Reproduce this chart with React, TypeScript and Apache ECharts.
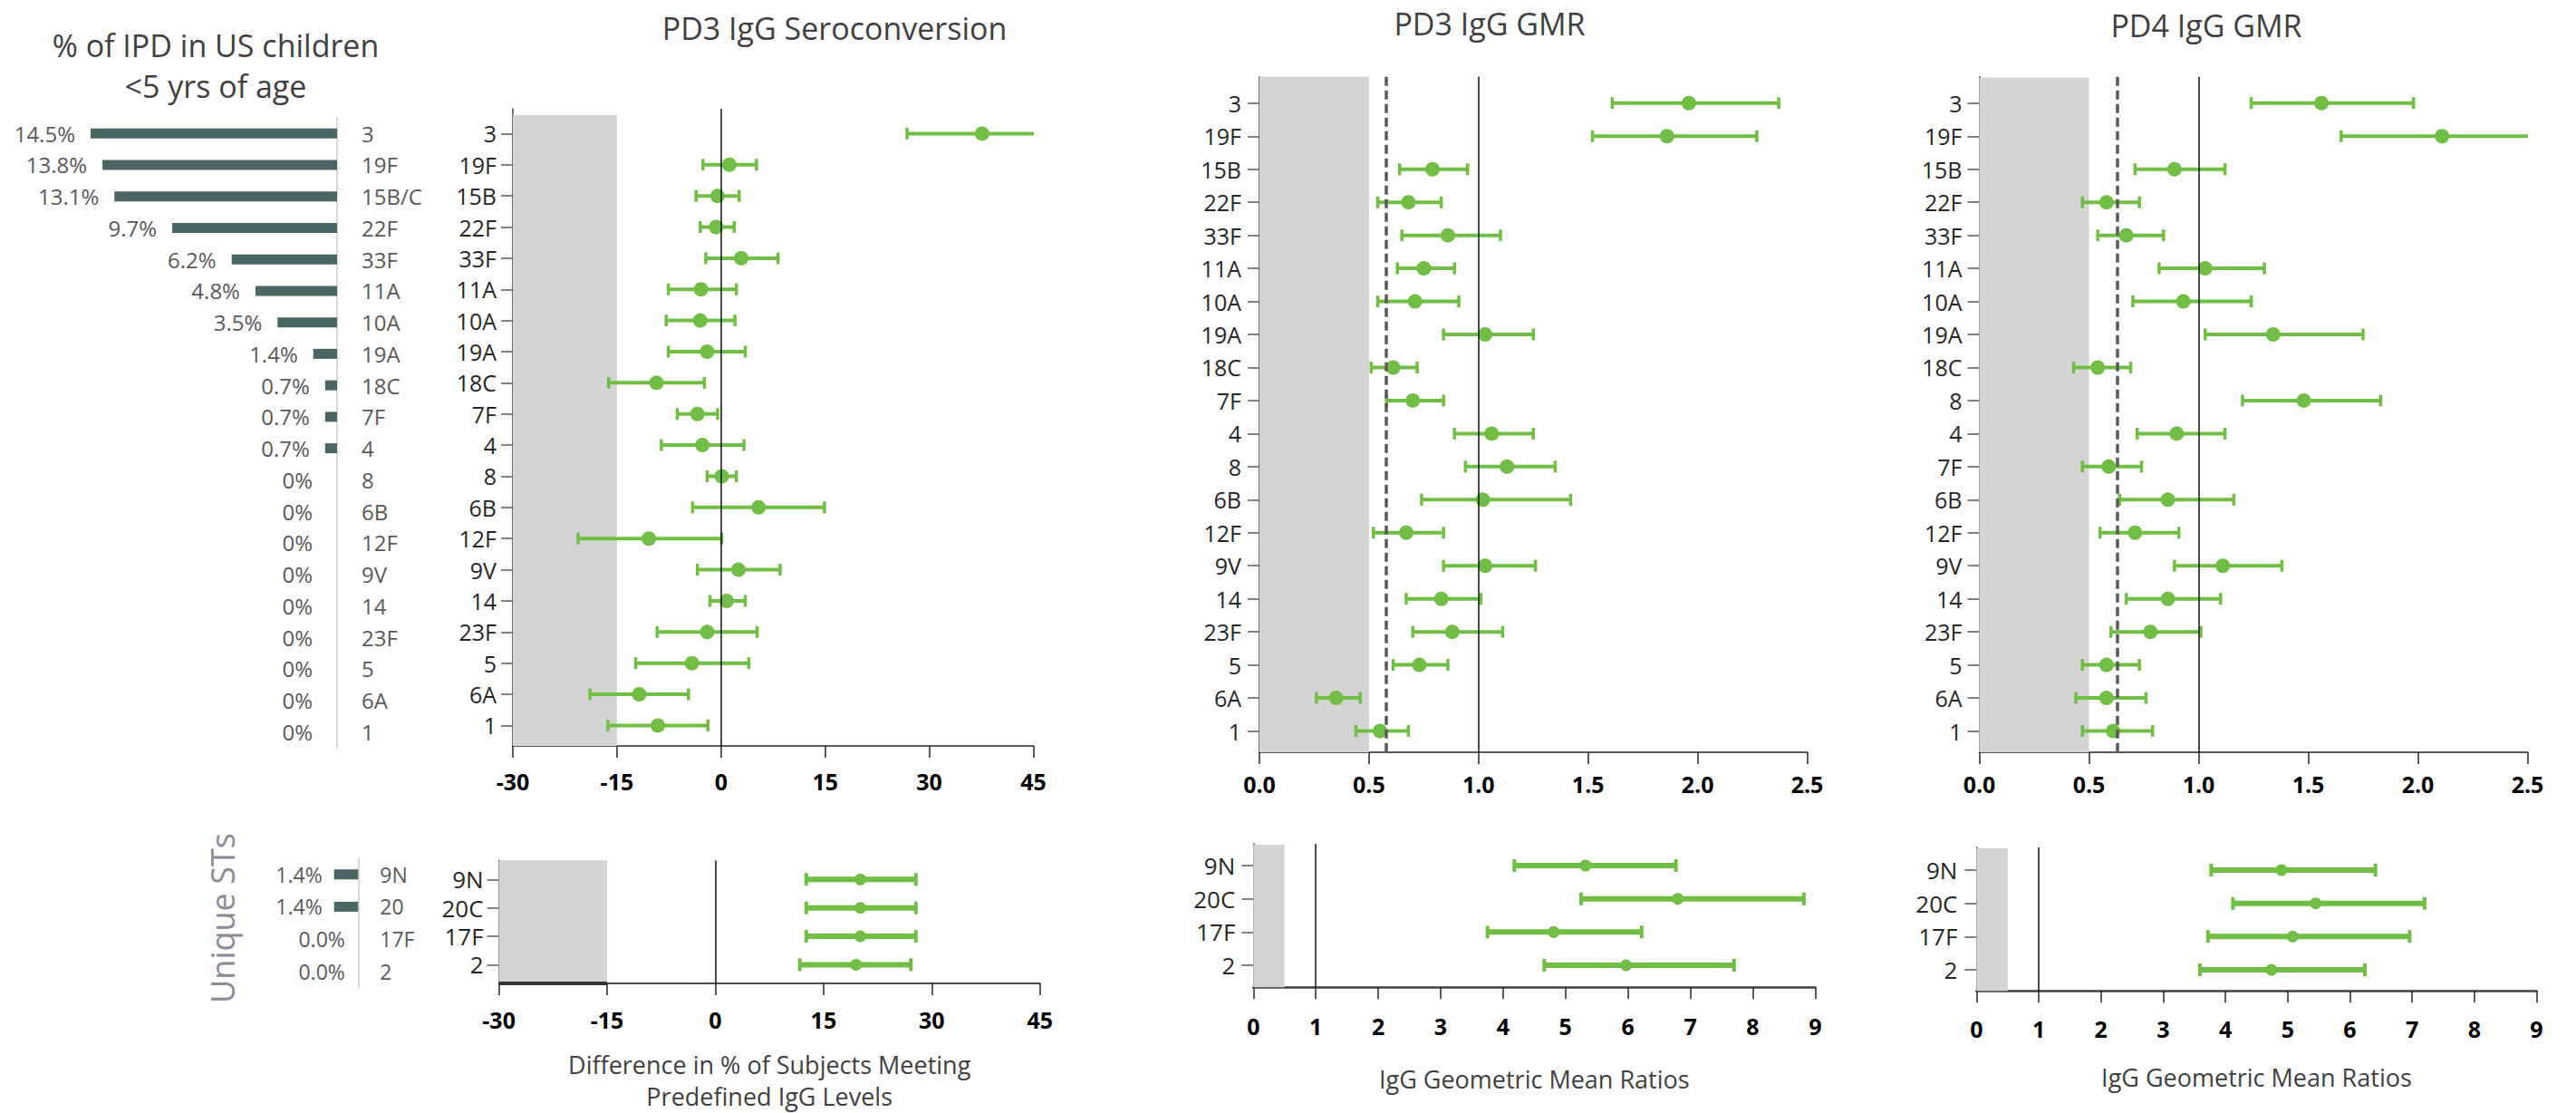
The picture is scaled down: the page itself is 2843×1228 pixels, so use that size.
import React, { useEffect, useRef } from 'react';
import * as echarts from 'echarts';

// ---------- DATA ----------
const ipdCats = ['3', '19F', '15B/C', '22F', '33F', '11A', '10A', '19A', '18C', '7F', '4', '8', '6B', '12F', '9V', '14', '23F', '5', '6A', '1'];
const ipdPct = [14.5, 13.8, 13.1, 9.7, 6.2, 4.8, 3.5, 1.4, 0.7, 0.7, 0.7, 0, 0, 0, 0, 0, 0, 0, 0, 0];

const seroCats = ['3', '19F', '15B', '22F', '33F', '11A', '10A', '19A', '18C', '7F', '4', '8', '6B', '12F', '9V', '14', '23F', '5', '6A', '1'];
const seroPt = [37.6, 1.2, -0.5, -0.7, 2.9, -2.9, -3.0, -2.0, -9.3, -3.4, -2.7, 0.1, 5.4, -10.4, 2.5, 0.8, -2.0, -4.2, -11.8, -9.1];
const seroLo = [26.8, -2.6, -3.6, -3.0, -2.2, -7.6, -7.9, -7.6, -16.2, -6.3, -8.6, -2.0, -4.1, -20.6, -3.4, -1.6, -9.2, -12.3, -18.9, -16.3];
const seroHi = [46.5, 5.1, 2.6, 1.9, 8.2, 2.2, 2.0, 3.5, -2.4, -0.5, 3.3, 2.2, 14.9, 0.1, 8.5, 3.5, 5.2, 4.0, -4.7, -1.9];

const pd3Cats = seroCats;
const pd3Pt = [1.96, 1.86, 0.79, 0.68, 0.86, 0.75, 0.71, 1.03, 0.61, 0.70, 1.06, 1.13, 1.02, 0.67, 1.03, 0.83, 0.88, 0.73, 0.35, 0.55];
const pd3Lo = [1.61, 1.52, 0.64, 0.54, 0.65, 0.63, 0.54, 0.84, 0.51, 0.58, 0.89, 0.94, 0.74, 0.52, 0.84, 0.67, 0.70, 0.61, 0.26, 0.44];
const pd3Hi = [2.37, 2.27, 0.95, 0.83, 1.10, 0.89, 0.91, 1.25, 0.72, 0.84, 1.25, 1.35, 1.42, 0.84, 1.26, 1.01, 1.11, 0.86, 0.46, 0.68];

const pd4Cats = ['3', '19F', '15B', '22F', '33F', '11A', '10A', '19A', '18C', '8', '4', '7F', '6B', '12F', '9V', '14', '23F', '5', '6A', '1'];
const pd4Pt = [1.56, 2.11, 0.89, 0.58, 0.67, 1.03, 0.93, 1.34, 0.54, 1.48, 0.90, 0.59, 0.86, 0.71, 1.11, 0.86, 0.78, 0.58, 0.58, 0.61];
const pd4Lo = [1.24, 1.65, 0.71, 0.47, 0.54, 0.82, 0.70, 1.03, 0.43, 1.20, 0.72, 0.47, 0.64, 0.55, 0.89, 0.67, 0.60, 0.47, 0.44, 0.47];
const pd4Hi = [1.98, 2.60, 1.12, 0.73, 0.84, 1.30, 1.24, 1.75, 0.69, 1.83, 1.12, 0.74, 1.16, 0.91, 1.38, 1.10, 1.01, 0.73, 0.76, 0.79];

const uniqueCats = ['9N', '20', '17F', '2'];
const uniquePct = [1.4, 1.4, 0.0, 0.0];

const botCats = ['9N', '20C', '17F', '2'];
const botSeroPt = [20.1, 20.1, 20.1, 19.5];
const botSeroLo = [12.6, 12.6, 12.6, 11.7];
const botSeroHi = [27.8, 27.8, 27.8, 27.1];
const botPd3Pt = [5.32, 6.80, 4.81, 5.97];
const botPd3Lo = [4.18, 5.25, 3.75, 4.66];
const botPd3Hi = [6.77, 8.82, 6.22, 7.70];
const botPd4Pt = [4.90, 5.45, 5.08, 4.74];
const botPd4Lo = [3.77, 4.12, 3.72, 3.59];
const botPd4Hi = [6.41, 7.20, 6.96, 6.24];

// thresholds
const seroShade = [-30, -15];
const gmrShade = [0, 0.5];
const pd3Dash = 0.58;
const pd4Dash = 0.625;

const seroTicks = { min: -30, max: 45, interval: 15 };
const gmrTicks = { min: 0, max: 2.5, interval: 0.5 };
const gmrBotTicks = { min: 0, max: 9, interval: 1 };

// ---------- STYLE ----------
const FONT = "'Open Sans', 'Noto Sans', sans-serif";
const GREEN = '#70bf44';
const BAR = '#4a6664';
const SHADE = '#d4d4d4';

type PanelCfg = {
  left: number; width: number; rowTop: number; rowStep: number;
  axisTop: number; axisBottom: number; grayTop: number;
  ticks: { min: number; max: number; interval: number };
  fmt: (v: number) => string;
  shade: number[]; refX: number; dashX?: number;
  lineW: number; capW: number; capH: number; sym: number;
  yMargin: number; xMargin: number; yFont: number;
  name?: string; nameGap?: number;
  axisLineW: number; axisLineColor: string;
  extraSeg?: boolean;
};

function forestPanel(gi: number, cats: string[], lo: number[], pt: number[], hi: number[], c: PanelCfg) {
  const yMin = (c.axisTop - c.rowTop) / c.rowStep;
  const yMax = (c.axisBottom - c.rowTop) / c.rowStep;
  const grayTopV = (c.grayTop - c.rowTop) / c.rowStep;
  const idx = cats.map((_, i) => i);
  const grid = { left: c.left, width: c.width, top: c.axisTop, height: c.axisBottom - c.axisTop, containLabel: false };
  const xAxis: any = {
    type: 'value', gridIndex: gi, min: c.ticks.min, max: c.ticks.max, interval: c.ticks.interval,
    position: 'bottom',
    axisLine: { show: true, onZero: false, lineStyle: { color: c.axisLineColor, width: c.axisLineW } },
    axisTick: { show: true, length: 13, lineStyle: { color: '#262626', width: 1.5 } },
    axisLabel: { fontSize: 25, fontWeight: 'bold', color: '#000', margin: c.xMargin, fontFamily: FONT, formatter: c.fmt },
    splitLine: { show: false },
  };
  if (c.name) {
    xAxis.name = c.name;
    xAxis.nameLocation = 'middle';
    xAxis.nameGap = c.nameGap;
    xAxis.nameTextStyle = { fontSize: 27, color: '#404040', fontFamily: FONT, lineHeight: 35, verticalAlign: 'top' };
  }
  const yAxis = {
    type: 'value', gridIndex: gi, min: yMin, max: yMax, inverse: true,
    splitLine: { show: false },
    axisLine: { show: true, onZero: false, lineStyle: { color: '#404040', width: 1.5 } },
    axisTick: { show: true, customValues: idx, length: 13, lineStyle: { color: '#595959', width: 1.5 } },
    axisLabel: {
      customValues: idx, margin: c.yMargin, fontSize: c.yFont, color: '#262626', fontFamily: FONT,
      formatter: (v: number) => cats[Math.round(v)] ?? '',
    },
  };
  const markLineData: any[] = [
    { xAxis: c.refX, lineStyle: { color: '#111', width: 1.5, type: 'solid' } },
  ];
  if (c.dashX !== undefined) {
    markLineData.push({ xAxis: c.dashX, lineStyle: { color: '#5a5a5a', width: 3.5, type: [10, 5] } });
  }
  if (c.extraSeg) {
    markLineData.push([
      { coord: [c.shade[0], yMax], lineStyle: { color: '#333', width: 4, type: 'solid' } },
      { coord: [c.shade[1], yMax] },
    ]);
  }
  const series: any[] = [
    {
      type: 'custom', xAxisIndex: gi, yAxisIndex: gi, clip: true, z: 3,
      data: lo.map((l, i) => [l, hi[i], i]),
      encode: { x: [0, 1], y: 2 },
      renderItem: (_p: any, api: any) => {
        const a = api.coord([api.value(0), api.value(2)]);
        const b = api.coord([api.value(1), api.value(2)]);
        const st = { stroke: GREEN, lineWidth: c.lineW };
        const cs = { stroke: GREEN, lineWidth: c.capW };
        return {
          type: 'group',
          children: [
            { type: 'line', shape: { x1: a[0], y1: a[1], x2: b[0], y2: b[1] }, style: st },
            { type: 'line', shape: { x1: a[0], y1: a[1] - c.capH / 2, x2: a[0], y2: a[1] + c.capH / 2 }, style: cs },
            { type: 'line', shape: { x1: b[0], y1: b[1] - c.capH / 2, x2: b[0], y2: b[1] + c.capH / 2 }, style: cs },
          ],
        };
      },
    },
    {
      type: 'scatter', xAxisIndex: gi, yAxisIndex: gi, z: 4,
      symbol: 'circle', symbolSize: c.sym,
      itemStyle: { color: GREEN, opacity: 1 },
      data: pt.map((p, i) => [p, i]),
      markArea: {
        silent: true,
        itemStyle: { color: SHADE },
        data: [[{ coord: [c.shade[0], grayTopV] }, { coord: [c.shade[1], yMax] }]],
      },
      markLine: {
        silent: true, symbol: ['none', 'none'], label: { show: false },
        data: markLineData,
      },
    },
  ];
  return { grid, xAxis, yAxis, series };
}

function barPanel(gi: number, cats: string[], vals: number[], c: {
  right: number; pxPer: number; max: number; top: number; height: number;
  font: number; dist: number; zeroDist: number; catMargin: number; fmt: (v: number) => string;
}) {
  const width = c.pxPer * c.max;
  const grid = { left: c.right - width, width, top: c.top, height: c.height };
  const xAxis = { type: 'value', gridIndex: gi, min: 0, max: c.max, inverse: true, show: false };
  const yAxis = {
    type: 'category', gridIndex: gi, data: cats, inverse: true, position: 'right',
    axisLine: { show: true, lineStyle: { color: '#d9d9d9', width: 2 } },
    axisTick: { show: false },
    axisLabel: { margin: c.catMargin, fontSize: c.font, color: '#595959', fontFamily: FONT },
    splitLine: { show: false },
  };
  const series = [{
    type: 'bar', xAxisIndex: gi, yAxisIndex: gi, barWidth: 11,
    itemStyle: { color: BAR },
    label: {
      show: true, position: 'left', distance: c.dist, fontSize: c.font, color: '#595959', fontFamily: FONT,
      formatter: (p: any) => c.fmt(p.value),
    },
    data: vals.map((v) => (v === 0 ? { value: v, label: { distance: c.zeroDist } } : v)),
  }];
  return { grid, xAxis, yAxis, series };
}

export default function App() {
  const ref = useRef<HTMLDivElement>(null);
  useEffect(() => {
    if (!ref.current) return;
    const chart = echarts.init(ref.current, null, { renderer: 'svg' });
    const gmrFmt = (v: number) => v.toFixed(1);
    const intFmt = (v: number) => String(v);
    const topCommon = { lineW: 4, capW: 3.5, capH: 13, sym: 16, yFont: 25, axisLineW: 1.5, axisLineColor: '#262626' };
    const botCommon = { lineW: 6, capW: 4, capH: 14, sym: 13, yFont: 26 };

    const panels = [
      barPanel(0, ipdCats, ipdPct, {
        right: 372, pxPer: 18.76, max: 16, top: 129.85, height: 694.8, font: 24, dist: 17, zeroDist: 27, catMargin: 27,
        fmt: (v) => (v === 0 ? '0%' : v.toFixed(1) + '%'),
      }),
      forestPanel(1, seroCats, seroLo, seroPt, seroHi, {
        ...topCommon, left: 566, width: 574.5, rowTop: 147.4, rowStep: 34.37, axisTop: 120, axisBottom: 823, grayTop: 127,
        ticks: seroTicks, fmt: intFmt, shade: seroShade, refX: 0, yMargin: 18, xMargin: 26,
      }),
      forestPanel(2, pd3Cats, pd3Lo, pd3Pt, pd3Hi, {
        ...topCommon, left: 1390, width: 604.5, rowTop: 113.8, rowStep: 36.46, axisTop: 84.7, axisBottom: 830, grayTop: 76.5,
        ticks: gmrTicks, fmt: gmrFmt, shade: gmrShade, refX: 1, dashX: pd3Dash, yMargin: 20, xMargin: 22,
      }),
      forestPanel(3, pd4Cats, pd4Lo, pd4Pt, pd4Hi, {
        ...topCommon, left: 2184.5, width: 605, rowTop: 113.8, rowStep: 36.46, axisTop: 84.7, axisBottom: 830, grayTop: 85.7,
        ticks: gmrTicks, fmt: gmrFmt, shade: gmrShade, refX: 1, dashX: pd4Dash, yMargin: 19, xMargin: 22,
      }),
      barPanel(4, uniqueCats, uniquePct, {
        right: 395.3, pxPer: 19, max: 10, top: 946.9, height: 142.7, font: 23, dist: 13, zeroDist: 14.5, catMargin: 24,
        fmt: (v) => v.toFixed(1) + '%',
      }),
      forestPanel(5, botCats, botSeroLo, botSeroPt, botSeroHi, {
        ...botCommon, left: 550.6, width: 597.2, rowTop: 970.7, rowStep: 31.9, axisTop: 949.3, axisBottom: 1087.3, grayTop: 942.7,
        ticks: seroTicks, fmt: intFmt, shade: seroShade, refX: 0, yMargin: 17, xMargin: 27,
        name: 'Difference in % of Subjects Meeting\nPredefined IgG Levels', nameGap: 72,
        axisLineW: 1.5, axisLineColor: '#111', extraSeg: true,
      }),
      forestPanel(6, botCats, botPd3Lo, botPd3Pt, botPd3Hi, {
        ...botCommon, left: 1383.3, width: 620, rowTop: 955, rowStep: 36.67, axisTop: 931, axisBottom: 1089.3, grayTop: 932,
        ticks: gmrBotTicks, fmt: intFmt, shade: gmrShade, refX: 1, yMargin: 20, xMargin: 30,
        name: 'IgG Geometric Mean Ratios', nameGap: 84, axisLineW: 2.5, axisLineColor: '#404040',
      }),
      forestPanel(7, botCats, botPd4Lo, botPd4Pt, botPd4Hi, {
        ...botCommon, left: 2181.4, width: 618.1, rowTop: 960, rowStep: 36.67, axisTop: 935, axisBottom: 1093.3, grayTop: 936,
        ticks: gmrBotTicks, fmt: intFmt, shade: gmrShade, refX: 1, yMargin: 21, xMargin: 29,
        name: 'IgG Geometric Mean Ratios', nameGap: 78, axisLineW: 2.5, axisLineColor: '#404040',
      }),
    ];

    const titleStyle = (text: string, x: number, y: number) => ({
      type: 'text', x, y,
      style: { text, fontSize: 34, fontFamily: FONT, fill: '#404040', textAlign: 'center', textVerticalAlign: 'middle' },
    });

    chart.setOption({
      animation: false,
      backgroundColor: '#ffffff',
      textStyle: { fontFamily: FONT },
      grid: panels.map((p) => p.grid),
      xAxis: panels.map((p) => p.xAxis),
      yAxis: panels.map((p) => p.yAxis),
      series: panels.flatMap((p) => p.series),
      graphic: [
        {
          type: 'text', x: 238, y: 72,
          style: {
            text: '% of IPD in US children\n<5 yrs of age', fontSize: 34, lineHeight: 45, fontFamily: FONT,
            fill: '#404040', textAlign: 'center', textVerticalAlign: 'middle',
          },
        },
        titleStyle('PD3 IgG Seroconversion', 921, 31),
        titleStyle('PD3 IgG GMR', 1644, 26),
        titleStyle('PD4 IgG GMR', 2435, 28),
        {
          type: 'text', x: 245, y: 1013, rotation: Math.PI / 2,
          style: { text: 'Unique STs', fontSize: 36, fontFamily: FONT, fill: '#8c8c94', textAlign: 'center', textVerticalAlign: 'middle' },
        },
      ],
    });
    return () => chart.dispose();
  }, []);
  return <div ref={ref} style={{ position: 'absolute', left: 0, top: 0, width: 2843, height: 1228 }} />;
}
